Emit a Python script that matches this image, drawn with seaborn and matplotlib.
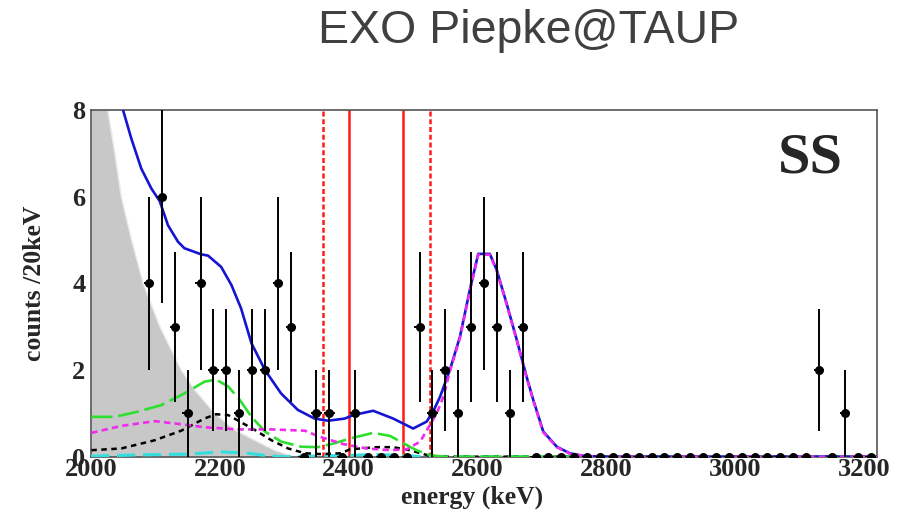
import numpy as np
import pandas as pd
import matplotlib
matplotlib.use("Agg")
import matplotlib.pyplot as plt
import seaborn as sns

# ---- binned single-site spectrum (20 keV bins) ----
bin_energy = list(range(2090, 3220, 20))
bin_counts = [4, 6, 3, 1, 4, 2, 2, 1, 2, 2, 4, 3, 0, 1, 1, 0, 1, 0, 0, 0, 0,
              3, 1, 2, 1, 3, 4, 3, 1, 3,
              0, 0, 0, 0, 0, 0, 0, 0, 0, 0, 0, 0, 0, 0, 0, 0, 0, 0, 0, 0, 0, 0,
              2, 0, 1, 0, 0]

# ---- 2nu double-beta component (grey fill) ----
bb2n_energy = [2000, 2012, 2026, 2037, 2047, 2063, 2081, 2107, 2140, 2161,
               2192, 2223, 2254, 2285, 2316, 3220]
bb2n_counts = [10.6, 9.2, 8.0, 7.0, 6.0, 5.0, 4.0, 3.0, 2.0, 1.54,
               1.0, 0.62, 0.38, 0.15, 0.0, 0.0]

# ---- total fit ----
fit_energy = [2049.7, 2062.6, 2078, 2093.6, 2106.6, 2119.5, 2135, 2145, 2171,
              2181.6, 2202, 2218, 2233, 2249, 2270, 2295, 2321, 2347, 2368,
              2394, 2407, 2438, 2469, 2500, 2521, 2531, 2541.7, 2557, 2572.7,
              2588, 2601, 2619, 2629.7, 2645, 2661, 2676, 2686.5, 2702, 2723,
              2743, 2764, 2790, 3220]
fit_counts = [8.0, 7.34, 6.65, 6.19, 5.9, 5.34, 4.96, 4.81, 4.67,
              4.64, 4.38, 3.96, 3.42, 2.62, 2.0, 1.46, 1.08, 0.88, 0.83,
              0.88, 0.96, 1.06, 0.88, 0.65, 0.81, 1.04, 1.38, 2.0, 2.77,
              3.85, 4.68, 4.68, 4.31, 3.54, 2.69, 1.85, 1.31, 0.58, 0.23,
              0.08, 0.02, 0.0, 0.0]

# ---- Th-232 component ----
th_energy = [2000.5, 2047, 2099, 2140, 2176, 2228, 2280, 2332, 2355, 2392,
             2428, 2464, 2490, 2511, 2526, 2536.5, 2547, 2557, 2572.7, 2588,
             2601, 2619, 2629.7, 2645, 2661, 2676, 2686.5, 2702, 2723, 2743,
             2764, 2790, 3220]
th_counts = [0.55, 0.71, 0.82, 0.75, 0.68, 0.63, 0.63, 0.6, 0.46, 0.29,
             0.19, 0.15, 0.17, 0.35, 0.73, 1.0, 1.38, 1.97, 2.74, 3.82,
             4.66, 4.66, 4.29, 3.52, 2.67, 1.83, 1.29, 0.56, 0.22, 0.07,
             0.02, 0.0, 0.0]

# ---- U-238 component ----
u_energy = [2000.5, 2037, 2073, 2109, 2145, 2176, 2194, 2213, 2231, 2249,
            2270, 2295, 2326, 2352, 2378, 2402, 2438, 2464, 2485, 2505,
            2526, 2546, 3220]
u_counts = [0.92, 0.92, 1.04, 1.19, 1.46, 1.73, 1.78, 1.62, 1.31, 0.92,
            0.58, 0.35, 0.23, 0.22, 0.31, 0.42, 0.55, 0.48, 0.31, 0.15,
            0.04, 0.0, 0.0]

# ---- other backgrounds ----
oth_energy = [2000.5, 2047, 2099, 2140, 2176, 2194, 2213, 2231, 2254, 2280,
              2306, 2332, 2357, 2388, 2402, 2443, 2469, 2495, 2521, 2531, 3220]
oth_counts = [0.15, 0.19, 0.38, 0.6, 0.88, 0.98, 0.96, 0.81, 0.62, 0.38,
              0.19, 0.08, 0.06, 0.08, 0.17, 0.22, 0.22, 0.15, 0.04, 0.0, 0.0]

co_energy = [2000, 2068, 2150, 2202, 2244, 2275, 2300, 2400, 2440, 2480, 2520, 3220]
co_counts = [0.01, 0.04, 0.06, 0.11, 0.08, 0.02, 0.0, 0.03, 0.05, 0.03, 0.0, 0.0]

xe137_energy = [2690, 3220]
xe137_counts = [0.0, 0.0]

# ---- region of interest (+-1 sigma, +-2 sigma) ----
roi_1sigma = [2401, 2484]
roi_2sigma = [2360, 2526]

# ---- axis ranges / ticks ----
x_range = (2000, 3220)
y_range = (0, 8)
x_ticks = [2000, 2200, 2400, 2600, 2800, 3000, 3200]
y_ticks = [0, 2, 4, 6, 8]

sns.set_style("white")
plt.rcParams["font.family"] = ["Liberation Serif", "DejaVu Serif"]
plt.rcParams["font.weight"] = "bold"

fig = plt.figure(figsize=(9.08, 5.14), dpi=100)
ax = fig.add_axes([91 / 908, 1 - 456.7 / 514, 786 / 908, 346.7 / 514])

# 2nu background
bb = pd.DataFrame({"E": bb2n_energy, "N": bb2n_counts})
ax.fill_between(bb["E"], 0, bb["N"], color="#c8c8c8", lw=0, zorder=1)
sns.lineplot(data=bb, x="E", y="N", ax=ax, color="#ececec", lw=1.0,
             errorbar=None, zorder=1.5)

# ROI lines
for e in roi_1sigma:
    ax.axvline(e, color="#ff1a1a", lw=1.8, zorder=2)
for e in roi_2sigma:
    ax.axvline(e, color="#ff1a1a", lw=1.8, zorder=2, linestyle=(0, (2.0, 1.1)))

def component(energy, counts, color, lw, dash=None, z=3):
    df = pd.DataFrame({"E": energy, "N": counts})
    sns.lineplot(data=df, x="E", y="N", ax=ax, color=color, lw=lw,
                 errorbar=None, zorder=z)
    line = ax.lines[-1]
    if dash is not None:
        line.set_linestyle((0, dash))
    return line

component(xe137_energy, xe137_counts, "#8b1010", 1.6, z=3)
component(co_energy, co_counts, "#33dede", 2.2, dash=(6, 2.5), z=3)
component(oth_energy, oth_counts, "black", 1.8, dash=(2.2, 1.8), z=3.2)
component(u_energy, u_counts, "#2ee02e", 1.9, dash=(8, 2.2), z=3.3)
component(fit_energy, fit_counts, "#1414d2", 1.9, z=3.5)
component(th_energy, th_counts, "#ee2cee", 1.9, dash=(2.4, 1.6), z=3.6)

# data points
counts = np.array(bin_counts, dtype=float)
ax.errorbar(bin_energy, counts, yerr=np.sqrt(counts), xerr=8, fmt="none",
            ecolor="black", elinewidth=1.4, capsize=0, zorder=4)
sns.scatterplot(x=bin_energy, y=counts, ax=ax, color="black", marker="o",
                s=42, edgecolor="black", linewidth=0, zorder=5)

ax.set_xlim(*x_range)
ax.set_ylim(*y_range)
ax.set_xticks(x_ticks)
ax.set_yticks(y_ticks)
ax.set_xticks(np.arange(2050, 3220, 50), minor=True)
ax.set_yticks(np.arange(0, 8.01, 0.2), minor=True)
ax.set_xlabel("")
ax.set_ylabel("")

for sp in ax.spines.values():
    sp.set_color("#555555")
    sp.set_linewidth(1.2)

ax.tick_params(axis="x", which="major", direction="in", length=7.5, width=1.0,
               color="#222222", labelsize=19, pad=1, top=False)
ax.tick_params(axis="x", which="minor", direction="in", length=3.6, width=1.0,
               color="#222222", top=False)
ax.tick_params(axis="y", which="major", direction="in", length=17, width=1.0,
               color="#222222", labelsize=19, pad=4, right=False)
ax.tick_params(axis="y", which="minor", direction="in", length=8.5, width=1.0,
               color="#222222", right=False)
for lbl in ax.get_xticklabels() + ax.get_yticklabels():
    lbl.set_fontweight("bold")

ax.text(0.485, -0.118, "energy (keV)", transform=ax.transAxes, ha="center",
        va="center", fontsize=18.5, fontweight="bold")
ax.text(-0.0725, 0.5, "counts /20keV", transform=ax.transAxes, ha="center",
        va="center", rotation=90, fontsize=18.5, fontweight="bold")
ax.text(0.915, 0.821, "SS", transform=ax.transAxes, ha="center",
        va="baseline", fontsize=42, fontweight="bold")

fig.text(529 / 908, 1 - 31 / 514, "EXO Piepke@TAUP", ha="center", va="center",
         fontsize=33.5, color="#404040", family=["Liberation Sans", "DejaVu Sans"],
         fontweight="normal")

fig.savefig("out.png", dpi=100, facecolor="white")
